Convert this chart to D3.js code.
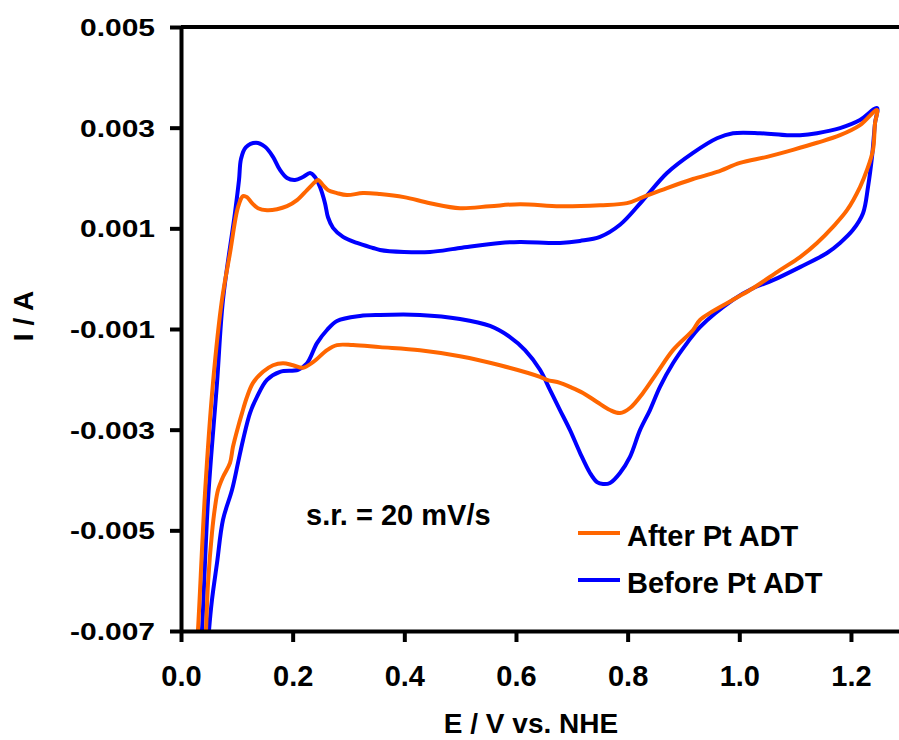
<!DOCTYPE html>
<html>
<head>
<meta charset="utf-8">
<script src="https://cdn.jsdelivr.net/npm/d3@7"></script>
<style>
  body { margin: 0; background: #ffffff; }
  text { font-family: "Liberation Sans", Arial, Helvetica, sans-serif; font-weight: bold; fill: #000000; }
</style>
</head>
<body>
<svg id="chart" width="899" height="740"></svg>
<script>

// cyclic voltammograms, [E (V vs NHE), I (A)]
var beforeADT = [
  [0.034, -0.0075], [0.0376, -0.00698], [0.0484, -0.00440], [0.0645, -0.00207], [0.0752, -0.00042],
  [0.0966, 0.00130], [0.1039, 0.00196], [0.1075, 0.00238], [0.1160, 0.00261], [0.1343, 0.00270], [0.1505, 0.00262],
  [0.1648, 0.00242], [0.1773, 0.00216], [0.1899, 0.00200], [0.2042, 0.00196], [0.2185, 0.00202],
  [0.2311, 0.00210], [0.2400, 0.00202], [0.2490, 0.00182], [0.2579, 0.00150], [0.2633, 0.00122],
  [0.2723, 0.00101], [0.2902, 0.00083], [0.3152, 0.00071], [0.3439, 0.00061], [0.3564, 0.00057],
  [0.3994, 0.00053], [0.446, 0.00053], [0.4997, 0.00061], [0.5714, 0.00071], [0.6072, 0.00073],
  [0.6788, 0.00071], [0.7147, 0.00075], [0.7505, 0.00083], [0.7863, 0.00107], [0.8275, 0.00156],
  [0.8705, 0.00210], [0.9171, 0.00250], [0.9601, 0.00279], [0.9887, 0.00289], [1.037, 0.00289],
  [1.0855, 0.00285], [1.1088, 0.00285], [1.1392, 0.00289], [1.1804, 0.00299], [1.2162, 0.00315],
  [1.2466, 0.00339],
  // cathodic sweep
  [1.2431, 0.00309], [1.2377, 0.00242], [1.2305, 0.00182], [1.2216, 0.00130], [1.2037, 0.00097],
  [1.1804, 0.00071], [1.1571, 0.00051], [1.1088, 0.00023], [1.0604, -0.00003], [1.0245, -0.00019],
  [0.9887, -0.00042], [0.9296, -0.00096], [0.9063, -0.00128], [0.8812, -0.00168], [0.8579, -0.00215],
  [0.8400, -0.00261], [0.8221, -0.00301], [0.8042, -0.00354], [0.7863, -0.00386], [0.7684, -0.00406],
  [0.7559, -0.00408], [0.7451, -0.00404], [0.7326, -0.00386], [0.7147, -0.00346], [0.6968, -0.00301],
  [0.6788, -0.00261], [0.6609, -0.00221], [0.6430, -0.00181], [0.6162, -0.00142], [0.5893, -0.00116],
  [0.5535, -0.00094], [0.4997, -0.00080], [0.4281, -0.00072], [0.3564, -0.00072], [0.3206, -0.00074],
  [0.2794, -0.00084], [0.2615, -0.00102], [0.2436, -0.00128], [0.2257, -0.00168], [0.2096, -0.00181],
  [0.1773, -0.00185], [0.154, -0.00201], [0.1361, -0.00235], [0.1236, -0.00267], [0.111, -0.00321],
  [0.1021, -0.00366], [0.0913, -0.00420], [0.0752, -0.00479], [0.0645, -0.00565], [0.0555, -0.00638],
  [0.0502, -0.00698], [0.047, -0.0075]
];

var afterADT = [
  [0.027, -0.0075], [0.0304, -0.00698], [0.043, -0.00426], [0.0573, -0.00207], [0.0734, -0.00042],
  [0.0878, 0.00051], [0.1021, 0.00142], [0.111, 0.00164], [0.1182, 0.00162], [0.1272, 0.00150],
  [0.1379, 0.00140], [0.1540, 0.00136], [0.1720, 0.00138], [0.1899, 0.00144], [0.2078, 0.00156],
  [0.2257, 0.00176], [0.2400, 0.00192], [0.2454, 0.00196], [0.2543, 0.00186], [0.2633, 0.00176],
  [0.2794, 0.00170], [0.2973, 0.00166], [0.3260, 0.00170], [0.3564, 0.00168], [0.3994, 0.00162],
  [0.446, 0.00150], [0.4997, 0.00140], [0.5535, 0.00144], [0.6072, 0.00148], [0.6788, 0.00144],
  [0.7505, 0.00146], [0.7989, 0.00150], [0.8275, 0.00162], [0.8705, 0.00180], [0.9171, 0.00198],
  [0.9601, 0.00212], [1.0012, 0.00230], [1.0496, 0.00242], [1.0962, 0.00256], [1.1392, 0.00270],
  [1.1804, 0.00285], [1.2162, 0.00305], [1.2466, 0.00335],
  // cathodic sweep
  [1.2431, 0.00309], [1.2395, 0.00256], [1.2287, 0.00216], [1.2162, 0.00182], [1.1929, 0.00136],
  [1.1678, 0.00103], [1.1392, 0.00071], [1.1088, 0.00043], [1.0729, 0.00017], [1.0245, -0.00019],
  [0.9887, -0.00042], [0.9296, -0.00082], [0.9171, -0.00102], [0.8812, -0.00142], [0.8526, -0.00187],
  [0.8275, -0.00227], [0.8042, -0.00257], [0.7863, -0.00267], [0.7684, -0.00261], [0.7451, -0.00245],
  [0.7200, -0.00227], [0.6968, -0.00215], [0.6788, -0.00207], [0.6556, -0.00201], [0.6430, -0.00195],
  [0.5714, -0.00172], [0.4997, -0.00154], [0.4281, -0.00142], [0.3564, -0.00136], [0.3081, -0.00132],
  [0.2794, -0.00132], [0.2615, -0.00142], [0.2364, -0.00166], [0.2185, -0.00177], [0.2006, -0.00172],
  [0.1827, -0.00168], [0.1648, -0.00172], [0.1469, -0.00185], [0.1290, -0.00207], [0.1182, -0.00235],
  [0.1093, -0.00267], [0.1021, -0.00295], [0.0931, -0.00334], [0.0878, -0.00366], [0.0752, -0.00394],
  [0.0663, -0.00420], [0.0609, -0.00454], [0.0555, -0.00505], [0.0484, -0.00605], [0.0448, -0.00698],
  [0.042, -0.0075]
];

var xTicks = [0.0, 0.2, 0.4, 0.6, 0.8, 1.0, 1.2];
var yTicks = [0.005, 0.003, 0.001, -0.001, -0.003, -0.005, -0.007];
var seriesNames = ["After Pt ADT", "Before Pt ADT"];
var seriesColors = ["#ff6600", "#0000ff"];


var W = 899, H = 740;
var plotLeft = 181, plotTop = 27, plotBottom = 631;

var x = d3.scaleLinear().domain( [0, 1.3] ).range( [plotLeft, plotLeft + 1.3 * 558.3] );
var y = d3.scaleLinear().domain( [-0.007, 0.005] ).range( [plotBottom, plotTop] );

var svg = d3.select( "#chart" );

svg.append( "clipPath" ).attr( "id", "plotclip" )
  .append( "rect" )
    .attr( "x", plotLeft ).attr( "y", plotTop - 10 )
    .attr( "width", W - plotLeft ).attr( "height", plotBottom - plotTop + 10 );

// curves (blue first, orange drawn over it)
var line = d3.line()
    .x( function(d) { return x( d[0] ); } )
    .y( function(d) { return y( d[1] ); } )
    .curve( d3.curveCatmullRom.alpha( 0.5 ) );

var curves = svg.append( "g" ).attr( "clip-path", "url(#plotclip)" );
curves.append( "path" )
    .datum( beforeADT )
    .attr( "d", line )
    .attr( "style", "fill:none;stroke:" + seriesColors[1] + ";stroke-width:4;stroke-linejoin:round;" );
curves.append( "path" )
    .datum( afterADT )
    .attr( "d", line )
    .attr( "style", "fill:none;stroke:" + seriesColors[0] + ";stroke-width:4;stroke-linejoin:round;" );

// axes
var xAxis = d3.axisBottom( x )
    .tickValues( xTicks )
    .tickFormat( d3.format( ".1f" ) )
    .tickSize( 11 ).tickSizeOuter( 0 ).tickPadding( 44 );
var gx = svg.append( "g" )
    .attr( "transform", "translate(0," + plotBottom + ")" )
    .call( xAxis );
gx.selectAll( "text" ).style( "font-size", "29px" ).attr( "dy", "0" );

var fmt3 = d3.format( ".3f" );
var yAxis = d3.axisLeft( y )
    .tickValues( yTicks )
    .tickFormat( function(d) { return fmt3( d ).replace( "\u2212", "-" ); } )
    .tickSize( 11 ).tickSizeOuter( 0 ).tickPadding( 15 );
var gy = svg.append( "g" )
    .attr( "transform", "translate(" + plotLeft + ",0)" )
    .call( yAxis );
gy.selectAll( "text" )
    .style( "font-size", "30px" )
    .attr( "dy", "0.36em" )
    .attr( "transform", "scale(1,0.8)" );

svg.selectAll( ".domain, .tick line" )
    .attr( "stroke", "#000000" )
    .attr( "stroke-width", 4 );

// top frame line
svg.append( "line" )
    .attr( "x1", plotLeft ).attr( "x2", W )
    .attr( "y1", y( 0.005 ) ).attr( "y2", y( 0.005 ) )
    .attr( "stroke", "#000000" ).attr( "stroke-width", 4 );

// axis titles
svg.append( "text" )
    .text( "E / V vs. NHE" )
    .style( "font-size", "28px" )
    .style( "text-anchor", "middle" )
    .attr( "x", 531 ).attr( "y", 733 );
svg.append( "text" )
    .text( "I / A" )
    .style( "font-size", "28px" )
    .style( "text-anchor", "middle" )
    .attr( "transform", "translate(33,316) rotate(-90)" );

// annotation
svg.append( "text" )
    .text( "s.r. = 20 mV/s" )
    .style( "font-size", "29px" )
    .attr( "x", 306 ).attr( "y", 525 );

// legend
var legend = svg.append( "g" );
seriesNames.forEach( function( name, i ) {
    var ly = 533 + i * 47;
    legend.append( "line" )
      .attr( "x1", 578 ).attr( "x2", 620 )
      .attr( "y1", ly ).attr( "y2", ly )
      .attr( "stroke", seriesColors[i] ).attr( "stroke-width", 4 );
    legend.append( "text" )
      .text( name )
      .style( "font-size", "29px" )
      .attr( "x", 627 ).attr( "y", ly + 13 );
});

</script>
</body>
</html>
